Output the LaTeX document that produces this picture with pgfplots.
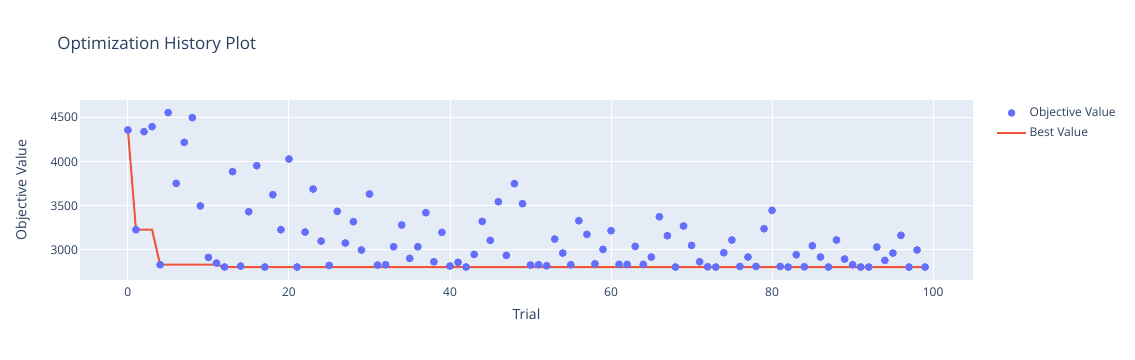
\documentclass[border=0pt]{standalone}
\usepackage{fontspec}
\setmainfont{Open Sans}
\usepackage{pgfplots}
\pgfplotsset{compat=1.18}
\definecolor{plotbg}{HTML}{E5ECF6}
\definecolor{txt}{HTML}{2A3F5F}
\definecolor{pblue}{HTML}{636EFA}
\definecolor{pred}{HTML}{EF553B}
\begin{document}
\begin{tikzpicture}
\useasboundingbox (0pt,0pt) rectangle (851.25pt,270pt);
\node[anchor=west,inner sep=0pt,text=txt,font=\fontsize{12.75pt}{15pt}\selectfont] at (42.75pt,236.25pt) {Optimization History Plot};
\begin{axis}[
  at={(60pt,60pt)}, anchor=south west,
  scale only axis, width=669.75pt, height=135pt,
  xmin=-5.95, xmax=104.95, ymin=2660, ymax=4700,
  xtick={0,20,40,60,80,100}, ytick={3000,3500,4000,4500},
  axis background/.style={fill=plotbg},
  axis line style={draw=none},
  major tick style={draw=none},
  grid=major, major grid style={white, line width=0.75pt},
  tick label style={text=txt, font=\fontsize{9pt}{11pt}\selectfont},
  /pgf/number format/assume math mode=true,
  /pgf/number format/set thousands separator={},
  xticklabel style={yshift=-2pt},
  yticklabel style={xshift=2pt},
  xlabel={Trial}, ylabel={Objective Value},
  label style={text=txt, font=\fontsize{10.5pt}{12pt}\selectfont},
  xlabel style={at={(axis description cs:0.5,0)}, anchor=center, yshift=-26pt},
  ylabel style={at={(axis description cs:0,0.5)}, anchor=center, yshift=43pt},
  legend style={at={(1.021,0.99)}, anchor=north west, draw=none, fill=none,
    font=\fontsize{9pt}{11pt}\selectfont, text=txt, row sep=3pt,
    legend cell align=left},
  clip=false,
]
\addplot[only marks, mark=*, mark size=2.7pt, color=pblue, mark options={draw=pblue, fill=pblue},
  legend image code/.code={\fill[pblue] (10.9pt,0) circle (2.6pt);}] coordinates {
(0,4360)(1,3230)(2,4341)(3,4398)(4,2833)(5,4557)(6,3755)(7,4220)(8,4500)(9,3500)
(10,2916)(11,2852)(12,2807)(13,3888)(14,2818)(15,3434)(16,3956)(17,2807)(18,3627)(19,3230)
(20,4031)(21,2807)(22,3203)(23,3691)(24,3101)(25,2825)(26,3438)(27,3079)(28,3321)(29,3000)
(30,3634)(31,2829)(32,2833)(33,3037)(34,3283)(35,2905)(36,3037)(37,3423)(38,2867)(39,3200)
(40,2818)(41,2860)(42,2807)(43,2950)(44,3324)(45,3109)(46,3547)(47,2939)(48,3752)(49,3525)
(50,2829)(51,2833)(52,2822)(53,3124)(54,2965)(55,2833)(56,3332)(57,3177)(58,2844)(59,3007)
(60,3219)(61,2837)(62,2837)(63,3041)(64,2837)(65,2920)(66,3377)(67,3162)(68,2807)(69,3272)
(70,3052)(71,2867)(72,2810)(73,2807)(74,2969)(75,3113)(76,2814)(77,2920)(78,2814)(79,3241)
(80,3449)(81,2814)(82,2807)(83,2946)(84,2810)(85,3048)(86,2920)(87,2807)(88,3113)(89,2897)
(90,2833)(91,2807)(92,2807)(93,3033)(94,2882)(95,2965)(96,3166)(97,2807)(98,3000)(99,2807)
};
\addlegendentry{Objective Value}
\addplot[no marks, color=pred, line width=1.5pt,
  legend image code/.code={\draw[pred, line width=1.5pt] (0,0) -- (21.75pt,0);}] coordinates {
(0,4360)(1,3230)(2,3230)(3,3230)(4,2833)(5,2833)(6,2833)(7,2833)(8,2833)(9,2833)
(10,2833)(11,2833)(12,2807)(99,2807)
};
\addlegendentry{Best Value}
\end{axis}
\end{tikzpicture}
\end{document}
